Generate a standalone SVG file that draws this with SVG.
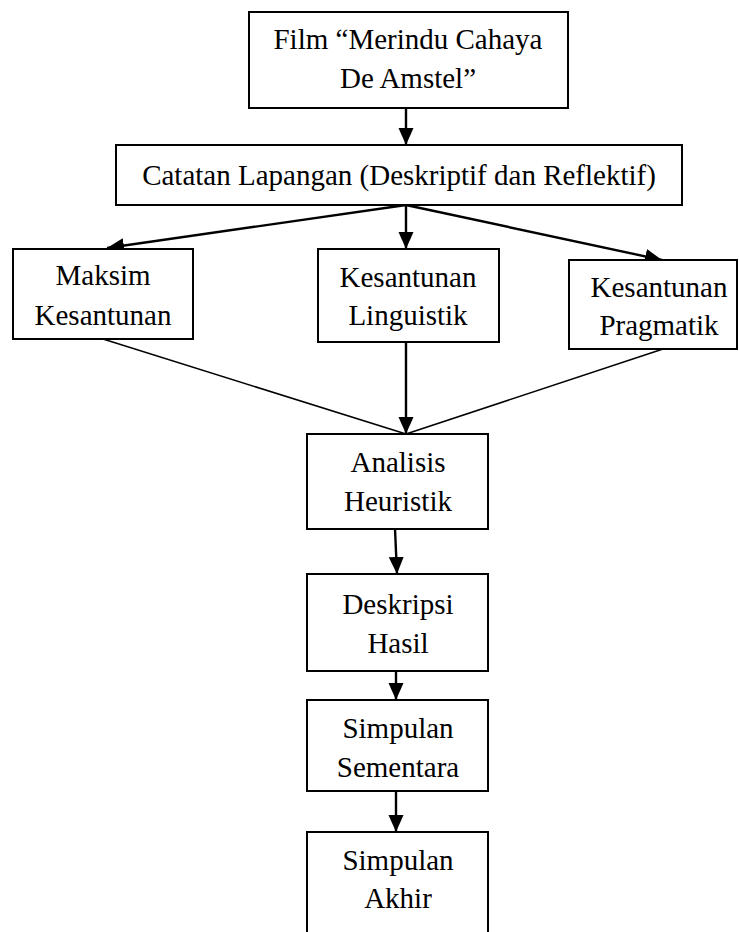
<svg xmlns="http://www.w3.org/2000/svg" width="739" height="932" viewBox="0 0 739 932">
<style>
.box{fill:#fff;stroke:#000;stroke-width:2}
.t{font-family:"Liberation Serif","Times New Roman",serif;font-size:29px;fill:#000;text-anchor:middle}
.arr{stroke:#000;stroke-width:2.4;fill:none;marker-end:url(#ah)}
.ln{stroke:#000;stroke-width:1.5;fill:none}
</style>
<defs>
<marker id="ah" markerUnits="userSpaceOnUse" markerWidth="18" markerHeight="18" viewBox="0 0 18 18" refX="17" refY="9" orient="auto">
<path d="M0,1.5 L17,9 L0,16.5 Z" fill="#000"/>
</marker>
</defs>
<rect width="739" height="932" fill="#fff"/>
<g id="connectors">
<line class="arr" x1="406" y1="108" x2="406" y2="145"/>
<line class="arr" x1="406" y1="205" x2="107" y2="248"/>
<line class="arr" x1="406" y1="205" x2="406" y2="249"/>
<line class="arr" x1="406" y1="205" x2="662" y2="260"/>
<line class="ln" x1="103" y1="339" x2="406" y2="434"/>
<line class="arr" x1="406" y1="342" x2="406" y2="434"/>
<line class="ln" x1="663" y1="349" x2="406" y2="434"/>
<line class="arr" x1="395" y1="529" x2="397" y2="574"/>
<line class="arr" x1="396" y1="671" x2="396" y2="700"/>
<line class="arr" x1="396" y1="791" x2="396" y2="832"/>
</g>
<g id="film">
<rect class="box" x="249" y="12" width="319" height="96"/>
<text class="t" x="408" y="49">Film “Merindu Cahaya</text>
<text class="t" x="408" y="88">De Amstel”</text>
</g>
<g id="catatan">
<rect class="box" x="116" y="145" width="566" height="60"/>
<text class="t" x="399" y="185">Catatan Lapangan (Deskriptif dan Reflektif)</text>
</g>
<g id="maksim">
<rect class="box" x="13" y="249" width="180" height="90"/>
<text class="t" x="103" y="285">Maksim</text>
<text class="t" x="103" y="325">Kesantunan</text>
</g>
<g id="linguistik">
<rect class="box" x="318" y="249" width="181" height="93"/>
<text class="t" x="408" y="287">Kesantunan</text>
<text class="t" x="408" y="325">Linguistik</text>
</g>
<g id="pragmatik">
<rect class="box" x="569" y="260" width="168" height="89"/>
<text class="t" x="659" y="297">Kesantunan</text>
<text class="t" x="659" y="335">Pragmatik</text>
</g>
<g id="analisis">
<rect class="box" x="307" y="434" width="181" height="95"/>
<text class="t" x="398" y="472">Analisis</text>
<text class="t" x="398" y="511">Heuristik</text>
</g>
<g id="deskripsi">
<rect class="box" x="307" y="574" width="181" height="97"/>
<text class="t" x="398" y="614">Deskripsi</text>
<text class="t" x="398" y="653">Hasil</text>
</g>
<g id="sementara">
<rect class="box" x="307" y="700" width="181" height="91"/>
<text class="t" x="398" y="738">Simpulan</text>
<text class="t" x="398" y="777">Sementara</text>
</g>
<g id="akhir">
<rect class="box" x="307" y="832" width="181" height="110"/>
<text class="t" x="398" y="870">Simpulan</text>
<text class="t" x="398" y="908">Akhir</text>
</g>
</svg>
